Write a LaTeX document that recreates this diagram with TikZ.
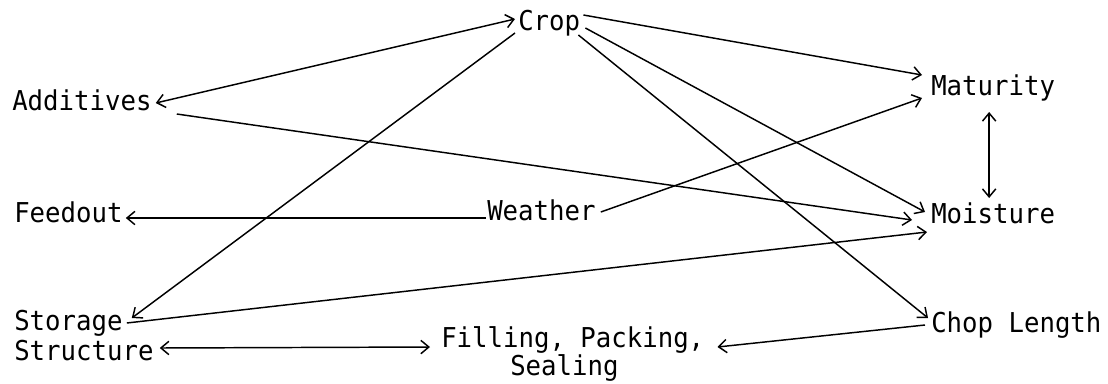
\documentclass[tikz,border=0pt]{standalone}
\usepackage{fontspec}
\newfontfamily\twfont{DejaVu Sans Mono}[FakeStretch=0.94]
\usetikzlibrary{arrows.meta,calc}
\begin{document}
\begin{tikzpicture}[x=0.75pt,y=-0.75pt,
  lbl/.style={inner sep=0pt,anchor=base west,font=\twfont\fontsize{20.5}{24}\selectfont},
  conn/.style={line width=1.1pt,-{Straight Barb[length=6pt,width=10pt]}},
  dconn/.style={line width=1.1pt,{Straight Barb[length=6pt,width=10pt]}-{Straight Barb[length=6pt,width=10pt]}}]
\useasboundingbox (0,0) rectangle (1108,383);
\node[lbl] (crop) at (518,30) {Crop};
\node[lbl] (add) at (12,110) {Additives};
\node[lbl] (mat) at (931,95) {Maturity};
\node[lbl] (moist) at (931,223) {Moisture};
\node[lbl] (feed) at (14,222) {Feedout};
\node[lbl] (weath) at (487,220) {Weather};
\node[lbl] (stor) at (14,330) {Storage};
\node[lbl] (struct) at (14,360) {Structure};
\node[lbl] (fill) at (441,347) {Filling, Packing,};
\node[lbl] (seal) at (510,375) {Sealing};
\node[lbl] (chop) at (931,332) {Chop Length};
% connectors
\draw[dconn] ($(add.base east)+(4,-7)$) -- ($(crop.base west)+(-3,-11)$);
\draw[conn] ($(add.base east)+(25,4)$) -- ($(moist.base west)+(-19,-3)$);
\draw[conn] ($(crop.base east)+(3,-15)$) -- ($(mat.base west)+(-9,-20)$);
\draw[conn] ($(crop.base east)+(5,-2)$) -- ($(moist.base west)+(-6,-11)$);
\draw[conn] ($(crop.base east)+(-2,5)$) -- ($(chop.base west)+(-3,-14)$);
\draw[conn] ($(crop.base west)+(-3,3)$) -- ($(stor.base east)+(9,-12)$);
\draw[conn] ($(weath.base west)+(-1,-2)$) -- ($(feed.base east)+(3,-4)$);
\draw[conn] ($(weath.base east)+(5,-8)$) -- ($(mat.base west)+(-9,3)$);
\draw[dconn] ($(mat.base)+(-4,17)$) -- ($(moist.base)+(-4,-25)$);
\draw[conn] ($(stor.base east)+(4,-7)$) -- ($(moist.base west)+(-4,9)$);
\draw[dconn] ($(struct.base east)+(6,-12)$) -- ($(fill.base west)+(-11,0)$);
\draw[conn] ($(chop.base west)+(-6,-7)$) -- ($(fill.base east)+(13,0)$);
\end{tikzpicture}
\end{document}
